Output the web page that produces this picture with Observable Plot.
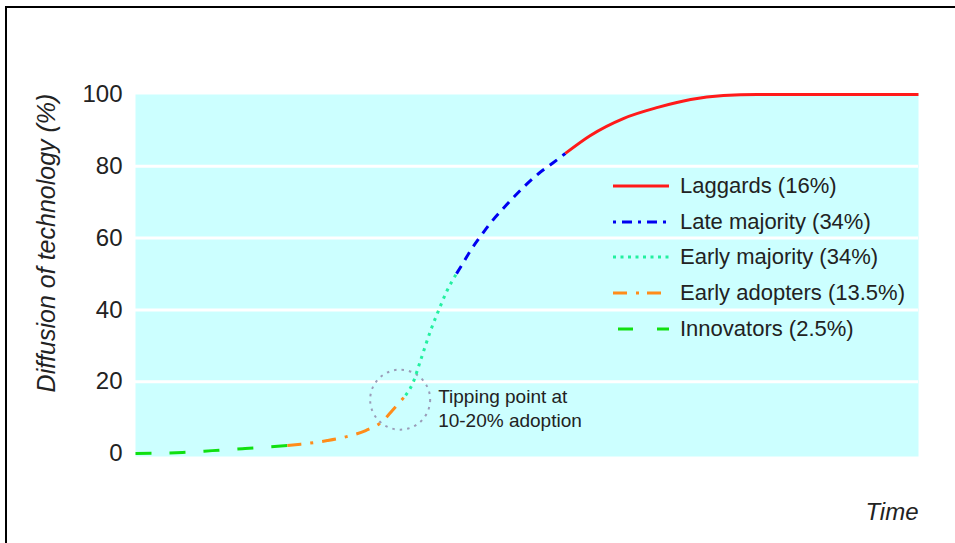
<!DOCTYPE html>
<html>
<head>
<meta charset="utf-8">
<script src="https://cdn.jsdelivr.net/npm/d3@7"></script>
<script src="https://cdn.jsdelivr.net/npm/@observablehq/plot@0.6"></script>
<style>
  html, body { margin: 0; padding: 0; background: #fff; }
  #wrap { position: relative; width: 955px; height: 543px; overflow: hidden; font-family: "Liberation Sans", Arial, sans-serif; }
  #border { position: absolute; left: 5px; top: 6px; width: 960px; height: 560px; border-left: 2px solid #000; border-top: 2px solid #000; pointer-events: none; }
  #legend { position: absolute; left: 613px; top: 168px; }
  .row { display: flex; align-items: center; height: 35.8px; }
  .row svg { width: 56px; height: 6px; margin-right: 11px; }
  .row span { font-size: 22px; color: #222; white-space: nowrap; }
</style>
</head>
<body>
<div id="wrap"></div>
<script>
// Time (arbitrary units 0-100) and diffusion (%)
const innovators    = [[0,0],[6,0.3],[9.8,0.8],[14,1.4],[19.4,2.2]];
const earlyAdopters = [[19.4,2.2],[21.1,2.6],[24.5,3.6],[26.6,4.5],[29.4,6.4],[31.5,8.9],[32.8,12],[34.5,16.2]];
const earlyMajority = [[34.5,16.2],[35.4,19.5],[36.4,25.9],[37.7,34.3],[38.7,39.8],[39.8,45.4],[41,50.1]];
const lateMajority  = [[41,50.1],[41.8,52.9],[42.8,56.6],[44.1,60.6],[45.3,64.1],[46.9,68.1],[48.3,71.4],[49.8,74.7],[51.5,78],[53.3,80.9],[54.9,83.6]];
const laggards      = [[54.9,83.6],[58.1,88.6],[62.3,93.3],[66.7,96.4],[70.9,98.6],[75.1,99.7],[79.4,100],[100,100]];

const yTicks = [0, 20, 40, 60, 80, 100];
const gridValues = [20, 40, 60, 80];
const tippingPoint = [[33.8, 15]];
const tipLabel = "Tipping point at\n10-20% adoption";
const yTitle = "Diffusion of technology (%)";
const xTitle = "Time";

const series = [
  {name: "Laggards (16%)",        data: laggards,      stroke: "#ff1a1a", dash: null,        legendDash: null},
  {name: "Late majority (34%)",   data: lateMajority,  stroke: "#0000f0", dash: "9,7",       legendDash: "3,6,10,6"},
  {name: "Early majority (34%)",  data: earlyMajority, stroke: "#22f0a0", dash: "3,5",       legendDash: "3,4.5"},
  {name: "Early adopters (13.5%)",data: earlyAdopters, stroke: "#ff8c1a", dash: "14,9,3,9",  legendDash: "14,9,3,8"},
  {name: "Innovators (2.5%)",     data: innovators,    stroke: "#10e010", dash: "16,18",     legendDash: "0,5,15,19"}
];

const lineMarks = series.slice().reverse().map(s => Plot.line(s.data, {
  x: d => d[0], y: d => d[1], stroke: s.stroke, strokeWidth: 3,
  strokeDasharray: s.dash, strokeLinecap: "butt", curve: "monotone-x"
}));

const chart = Plot.plot({
  width: 955,
  height: 543,
  marginLeft: 135,
  marginRight: 37,
  marginTop: 94,
  marginBottom: 90,
  style: {fontFamily: '"Liberation Sans", Arial, sans-serif', color: "#222", background: "transparent"},
  x: {domain: [0, 100], axis: null},
  y: {domain: [0, 100], axis: null},
  marks: [
    Plot.frame({fill: "#ccffff", stroke: null, insetBottom: -3}),
    Plot.ruleY(gridValues, {stroke: "white", strokeWidth: 3}),
    Plot.axisY({ticks: yTicks, tickSize: 0, tickPadding: 13, fontSize: 24, label: null, fill: "#222"}),
    Plot.text([yTitle], {frameAnchor: "left", rotate: -90, dx: -89, dy: -31, fontSize: 25, fontStyle: "italic", fill: "#222", textAnchor: "middle"}),
    Plot.text([xTitle], {frameAnchor: "bottom-right", dy: 59, fontSize: 24, fontStyle: "italic", fill: "#222", textAnchor: "end", lineAnchor: "middle"}),
    Plot.dot(tippingPoint, {x: d => d[0], y: d => d[1], r: 30, stroke: "#9a9cb8", strokeWidth: 2, strokeDasharray: "2.5,5", fill: "none"}),
    ...lineMarks,
    Plot.text(tippingPoint, {x: d => d[0], y: d => d[1], text: () => tipLabel, dx: 38, dy: 8, textAnchor: "start", lineAnchor: "middle", fontSize: 19, lineHeight: 1.26, fill: "#222"})
  ]
});

const wrap = document.getElementById("wrap");
wrap.appendChild(chart);

const legend = document.createElement("div");
legend.id = "legend";
for (const s of series) {
  const row = document.createElement("div");
  row.className = "row";
  const ns = "http://www.w3.org/2000/svg";
  const svg = document.createElementNS(ns, "svg");
  svg.setAttribute("viewBox", "0 0 56 6");
  const ln = document.createElementNS(ns, "line");
  ln.setAttribute("x1", 0); ln.setAttribute("x2", 56);
  ln.setAttribute("y1", 3); ln.setAttribute("y2", 3);
  ln.setAttribute("stroke", s.stroke);
  ln.setAttribute("stroke-width", 3);
  if (s.legendDash) ln.setAttribute("stroke-dasharray", s.legendDash);
  svg.appendChild(ln);
  const span = document.createElement("span");
  span.textContent = s.name;
  row.appendChild(svg);
  row.appendChild(span);
  legend.appendChild(row);
}
wrap.appendChild(legend);

const border = document.createElement("div");
border.id = "border";
wrap.appendChild(border);
</script>
</body>
</html>
